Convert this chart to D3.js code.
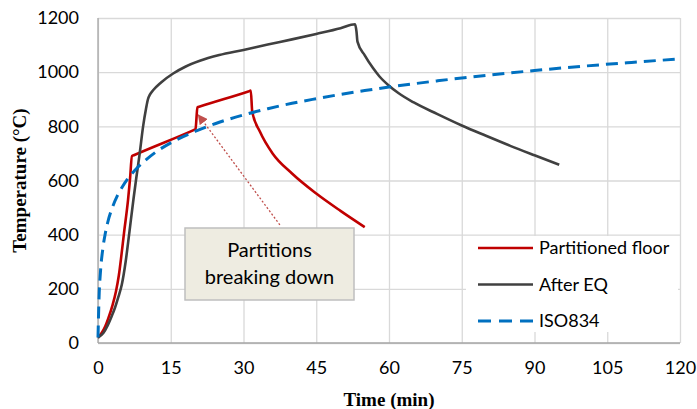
<!DOCTYPE html>
<html>
<head>
<meta charset="utf-8">
<script src="https://cdn.jsdelivr.net/npm/d3@7"></script>
<style>
  body { margin: 0; background: #fff; }
  svg { display: block; }
  .tick text { font-family: Lato, "Open Sans", sans-serif; font-size: 18px; fill: #000; }
  .grid line { stroke: #d9d9d9; stroke-width: 1.3; }
  .grid path { display: none; }
</style>
</head>
<body>
<div id="chart"></div>
<script>
// time (min) ticks and temperature ticks
var xTicks = [0, 15, 30, 45, 60, 75, 90, 105, 120];
var yTicks = [0, 200, 400, 600, 800, 1000, 1200];

// Partitioned floor: [min, degC]
var partitioned = [
  [0, 20], [0.75, 37], [1.5, 62], [2.1, 90], [3, 140], [3.7, 190], [4.3, 250],
  [4.8, 320], [5.36, 406], [6.2, 529], [6.6, 605], [7.0, 690], [7.5, 694],
  [19.6, 785], [20.1, 789], [20.5, 870], [21.0, 873], [31.0, 929], [31.5, 932],
  [31.8, 854], [33.4, 780], [36, 700], [40, 626], [45, 552], [50, 488],
  [55.0, 428]
];

// After EQ
var afterEQ = [
  [0, 20], [1.1, 37], [2, 65], [2.8, 98], [3.5, 130], [4.2, 170], [4.9, 215],
  [5.7, 300], [6.45, 406], [7.3, 529], [7.9, 610], [8.6, 700], [9.3, 800],
  [9.9, 865], [10.3, 900], [10.7, 917], [11.4, 934], [13, 962], [15.5, 995],
  [18, 1020], [21, 1042], [25, 1063], [30, 1082], [35, 1102], [40, 1121],
  [45, 1141], [50, 1162], [53, 1177], [53.3, 1150], [53.5, 1113], [55, 1062],
  [56.7, 1015], [58, 985], [60, 950], [62, 922], [65, 889], [70, 845],
  [75, 803], [80, 765], [85, 728], [90, 693], [95.1, 658]
];

// ISO834 standard fire curve
var iso834 = [
  [0, 20], [0.25, 185], [0.5, 261], [1, 349], [1.5, 404], [2, 445], [3, 502],
  [4, 544], [5, 576], [6, 603], [8, 645], [10, 678], [12, 706], [15, 739],
  [20, 781], [25, 815], [30, 842], [35, 865], [40, 885], [45, 902], [50, 918],
  [55, 932], [60, 945], [70, 968], [80, 988], [90, 1006], [100, 1022],
  [110, 1036], [120, 1049]
];

var seriesNames = ["Partitioned floor", "After EQ", "ISO834"];
var noteLines = ["Partitions", "breaking down"];
// arrow from note to the jump: [min, degC]
var arrowFrom = [37.5, 436];
var arrowTo = [20.7, 842];

var W = 697, H = 409;
var margin = {top: 18, right: 17, bottom: 66, left: 98};
var w = W - margin.left - margin.right,
    h = H - margin.top - margin.bottom;

var svg = d3.select("#chart").append("svg")
    .attr("width", W)
    .attr("height", H);

var defs = svg.append("defs");
defs.append("marker")
    .attr("id", "arrow")
    .attr("viewBox", "0 0 10 10")
    .attr("refX", 9).attr("refY", 5)
    .attr("markerWidth", 10).attr("markerHeight", 10)
    .attr("markerUnits", "userSpaceOnUse")
    .attr("orient", "auto")
  .append("path")
    .attr("d", "M0,0L10,5L0,10Z")
    .attr("fill", "#c0504d");

var g = svg.append("g")
    .attr("transform", "translate(" + margin.left + "," + margin.top + ")");

var x = d3.scaleLinear().domain([0, 120]).range([0, w]);
var y = d3.scaleLinear().domain([0, 1200]).range([h, 0]);

// grid
g.append("g").attr("class", "grid")
    .call(d3.axisLeft(y).tickValues(yTicks).tickSize(-w).tickFormat(""));
g.append("g").attr("class", "grid")
    .attr("transform", "translate(0," + h + ")")
    .call(d3.axisBottom(x).tickValues(xTicks).tickSize(-h).tickFormat(""));

// axis lines
g.append("line").attr("x1", 0).attr("x2", 0).attr("y1", 0).attr("y2", h)
    .attr("stroke", "#a6a6a6").attr("stroke-width", 1.3);
g.append("line").attr("x1", 0).attr("x2", w).attr("y1", h).attr("y2", h)
    .attr("stroke", "#a6a6a6").attr("stroke-width", 1.3);

// tick labels
var yAxis = g.append("g")
    .call(d3.axisLeft(y).tickValues(yTicks).tickFormat(d3.format("d"))
      .tickSize(0).tickPadding(19));
yAxis.select(".domain").remove();
var xAxis = g.append("g")
    .attr("transform", "translate(0," + h + ")")
    .call(d3.axisBottom(x).tickValues(xTicks).tickFormat(d3.format("d"))
      .tickSize(0).tickPadding(18));
xAxis.select(".domain").remove();

// axis titles
svg.append("text")
    .attr("transform", "translate(26," + (margin.top + h / 2) + ") rotate(-90)")
    .attr("text-anchor", "middle")
    .attr("font-family", "'Liberation Serif', 'Times New Roman', serif")
    .attr("font-weight", "bold")
    .attr("font-size", 19)
    .text("Temperature (°C)");

svg.append("text")
    .attr("x", 389)
    .attr("y", 406)
    .attr("text-anchor", "middle")
    .attr("font-family", "'Liberation Serif', 'Times New Roman', serif")
    .attr("font-weight", "bold")
    .attr("font-size", 19)
    .text("Time (min)");

var line = d3.line()
    .x(function(d) { return x(d[0]); })
    .y(function(d) { return y(d[1]); })
    .curve(d3.curveMonotoneX);

var colors = ["#c00000", "#404040", "#0070c0"];

g.append("path").datum(partitioned)
    .attr("d", line).attr("fill", "none")
    .attr("stroke", colors[0]).attr("stroke-width", 2.6);
g.append("path").datum(afterEQ)
    .attr("d", line).attr("fill", "none")
    .attr("stroke", colors[1]).attr("stroke-width", 2.6);
g.append("path").datum(iso834)
    .attr("d", line).attr("fill", "none")
    .attr("stroke", colors[2]).attr("stroke-width", 3)
    .attr("stroke-dasharray", "12,7");

// note box
var note = g.append("g");
note.append("rect")
    .attr("x", 185 - margin.left).attr("y", 228 - margin.top)
    .attr("width", 169).attr("height", 72)
    .attr("fill", "#eeece1")
    .attr("stroke", "#bfbfbf").attr("stroke-width", 1.5);
note.selectAll("text").data(noteLines).enter().append("text")
    .attr("x", 269.5 - margin.left)
    .attr("y", function(d, i) { return 257 - margin.top + i * 27; })
    .attr("text-anchor", "middle")
    .attr("font-family", "Lato, 'Open Sans', sans-serif")
    .attr("font-size", 20)
    .attr("fill", "#000")
    .text(function(d) { return d; });

// arrow
g.append("line")
    .attr("x1", x(arrowFrom[0])).attr("y1", y(arrowFrom[1]))
    .attr("x2", x(arrowTo[0])).attr("y2", y(arrowTo[1]))
    .attr("stroke", "#c0504d").attr("stroke-width", 1.3)
    .attr("stroke-dasharray", "2,2")
    .attr("marker-end", "url(#arrow)");

// legend
var legend = g.append("g")
    .attr("transform", "translate(" + (466 - margin.left) + "," + (236 - margin.top) + ")");
legend.append("rect")
    .attr("width", 212).attr("height", 96)
    .attr("fill", "#fff");
var items = legend.selectAll("g.item")
    .data(seriesNames)
    .enter().append("g")
    .attr("class", "item")
    .attr("transform", function(d, i) { return "translate(0," + (12 + i * 36.5) + ")"; });
items.append("line")
    .attr("x1", 12).attr("x2", 67)
    .attr("stroke", function(d, i) { return colors[i]; })
    .attr("stroke-width", function(d, i) { return i == 2 ? 3 : 2.6; })
    .attr("stroke-dasharray", function(d, i) { return i == 2 ? "13,8" : null; });
items.append("text")
    .attr("x", 73).attr("dy", "0.35em")
    .attr("font-family", "Lato, 'Open Sans', sans-serif")
    .attr("font-size", 18)
    .text(function(d) { return d; });
</script>
</body>
</html>
